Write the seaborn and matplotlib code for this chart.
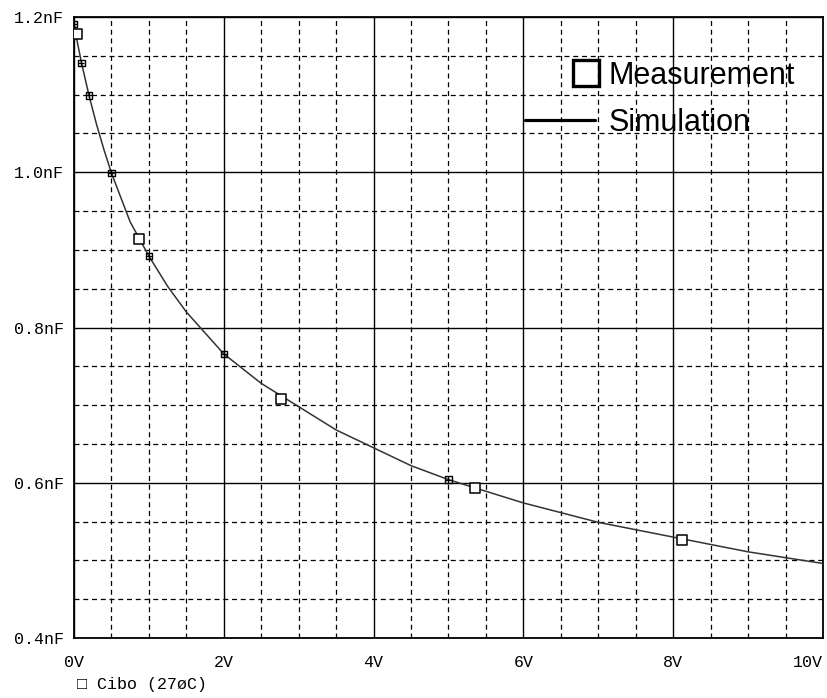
import numpy as np
import matplotlib
matplotlib.use("Agg")
import matplotlib.pyplot as plt
from matplotlib.lines import Line2D
from matplotlib.legend_handler import HandlerLine2D
import seaborn as sns

# simulated Cibo curve
sim_v = [0, 0.05, 0.1, 0.2, 0.3, 0.4, 0.5, 0.75, 1.0, 1.25, 1.5, 2.0, 2.5,
         3.0, 3.5, 4.0, 4.5, 5.0, 6.0, 7.0, 8.0, 9.0, 10.0]
sim_c = [1.191, 1.165, 1.141, 1.099, 1.062, 1.029, 0.999, 0.936, 0.892, 0.853,
         0.820, 0.766, 0.728, 0.698, 0.668, 0.645, 0.622, 0.604, 0.574, 0.549,
         0.530, 0.511, 0.496]

# trace symbols drawn on the simulated curve
sym_v = [0, 0.1, 0.2, 0.5, 1.0, 2.0, 5.0]
sym_c = [1.191, 1.141, 1.099, 0.999, 0.892, 0.766, 0.604]

# measured points
meas_v = [0.045, 0.87, 2.77, 5.35, 8.12]
meas_c = [1.178, 0.914, 0.708, 0.593, 0.526]

x_ticks = [0, 2, 4, 6, 8, 10]
x_labels = ["0V", "2V", "4V", "6V", "8V", "10V"]
y_ticks = [0.4, 0.6, 0.8, 1.0, 1.2]
y_labels = ["0.4nF", "0.6nF", "0.8nF", "1.0nF", "1.2nF"]


class RightMarkerHandler(HandlerLine2D):
    # two-point handle, only the right-hand point gets the marker
    def create_artists(self, *args, **kwargs):
        artists = super().create_artists(*args, **kwargs)
        for a in artists:
            a.set_markevery([1])
        return artists


sns.set_style("white")
mono = ["Liberation Mono", "DejaVu Sans Mono"]
plt.rcParams["font.family"] = mono
plt.rcParams["text.color"] = "black"

fig = plt.figure(figsize=(8.28, 6.98), dpi=100)
ax = fig.add_axes([74 / 828, 60 / 698, 749 / 828, 621 / 698])

# grid: solid at major, dashed at minor
ax.set_xticks(np.arange(0, 10.01, 0.5), minor=True)
ax.set_yticks(np.arange(0.4, 1.201, 0.05), minor=True)
ax.grid(which="major", color="black", lw=1.0, ls="-")
ax.grid(which="minor", color="black", lw=0.9, ls=(0, (4, 3)))
ax.set_axisbelow(True)

sns.lineplot(x=sim_v, y=sim_c, ax=ax, color="#333333", lw=1.1, zorder=3)
sns.scatterplot(x=sym_v, y=sym_c, ax=ax, marker="s", s=22, facecolor="none",
                edgecolor="black", linewidth=1.0, zorder=4)
sns.scatterplot(x=sym_v, y=sym_c, ax=ax, marker="+", s=22, color="black",
                linewidth=0.9, zorder=4)
sns.scatterplot(x=meas_v, y=meas_c, ax=ax, marker="s", s=52, facecolor="white",
                edgecolor="black", linewidth=1.1, zorder=5)

ax.set_xlim(0, 10)
ax.set_ylim(0.4, 1.2)
ax.set_xticks(x_ticks)
ax.set_xticklabels(x_labels)
ax.set_yticks(y_ticks)
ax.set_yticklabels(y_labels)
ax.get_xticklabels()[-1].set_ha("right")
ax.tick_params(which="major", direction="out", length=5.5, width=1.0,
               labelsize=12, colors="black")
ax.tick_params(axis="x", pad=7)
ax.tick_params(axis="y", pad=2)
ax.tick_params(which="minor", length=0)
for sp in ax.spines.values():
    sp.set_visible(True)
    sp.set_color("black")
    sp.set_linewidth(1.3)

meas_handle = Line2D([], [], marker="s", ls="none", markersize=19,
                     markerfacecolor="none", markeredgecolor="black",
                     markeredgewidth=2.4, label="Measurement")
sim_handle = Line2D([], [], color="black", lw=2.3, label="Simulation")
leg = ax.legend(handles=[meas_handle, sim_handle], loc="upper left",
                bbox_to_anchor=(0.602, 0.929), frameon=False, borderpad=0,
                borderaxespad=0, handlelength=2.3, handletextpad=0.45,
                labelspacing=0.55,
                handler_map={meas_handle: RightMarkerHandler(numpoints=2)},
                prop={"family": "Liberation Sans", "size": 22})
for t in leg.get_texts():
    t.set_color("black")

fig.text(77 / 828, 1 - 685 / 698, "\u25a1 Cibo (27øC)", family=mono,
         fontsize=12, va="center", ha="left")

fig.savefig("out.png", dpi=100)
